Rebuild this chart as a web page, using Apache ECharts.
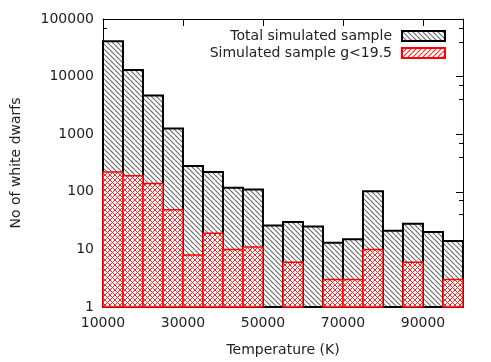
<!DOCTYPE html>
<html>
<head>
<meta charset="utf-8">
<script src="https://cdn.jsdelivr.net/npm/echarts@6/dist/echarts.min.js"></script>
<style>
  html, body { margin: 0; padding: 0; background: #fff; }
  #chart { width: 491px; height: 362px; }
</style>
</head>
<body>
<div id="chart"></div>
<script>
// temperature bins (lower edge, K), each 5000 K wide
const binStarts = [10000, 15000, 20000, 25000, 30000, 35000, 40000, 45000, 50000,
  55000, 60000, 65000, 70000, 75000, 80000, 85000, 90000, 95000]
const binWidth = 5000
const totalCounts = [41000, 13000, 4700, 1260, 280, 220, 118, 110, 26,
  30, 25, 13, 15, 102, 21, 28, 20, 14]
const brightCounts = [220, 190, 140, 49, 8, 19, 10, 11, 0,
  6, 0, 3, 3, 10, 0, 6, 0, 3]
const seriesNames = ['Total simulated sample', 'Simulated sample g<19.5']

function hatch(color, dirs, size, width) {
  const c = document.createElement('canvas')
  c.width = size
  c.height = size
  const ctx = c.getContext('2d')
  ctx.fillStyle = '#fff'
  ctx.fillRect(0, 0, size, size)
  ctx.strokeStyle = color
  ctx.lineWidth = width
  ctx.beginPath()
  for (const k of [-size, 0, size]) {
    if (dirs.indexOf('\\') >= 0) {
      ctx.moveTo(k, 0)
      ctx.lineTo(k + size, size)
    }
    if (dirs.indexOf('/') >= 0) {
      ctx.moveTo(k + size, 0)
      ctx.lineTo(k, size)
    }
  }
  ctx.stroke()
  return { image: c, repeat: 'repeat' }
}

const blackHatch = hatch('#666', '\\', 5, 1.1)
const redCross = hatch('#f22', '\\/', 5, 1)
const redLegend = hatch('#f22', '/', 5, 1.1)

function makeData(counts) {
  const out = []
  binStarts.forEach((x, i) => {
    if (counts[i] > 0) out.push([x, counts[i]])
  })
  return out
}

function barRenderer(fill, stroke, lw) {
  return function(params, api) {
    const x0 = api.value(0)
    const p1 = api.coord([x0, api.value(1)])
    const p2 = api.coord([x0 + binWidth, 1])
    return {
      type: 'rect',
      shape: { x: p1[0], y: p1[1], width: p2[0] - p1[0], height: p2[1] - p1[1] },
      style: { fill: fill, stroke: stroke, lineWidth: lw }
    }
  }
}

const chart = echarts.init(document.getElementById('chart'))
const textColor = '#222'
const font = 'DejaVu Sans'
const plain = v => String(v)

chart.setOption({
  animation: false,
  backgroundColor: '#fff',
  grid: { left: 103, right: 28, top: 19, bottom: 55 },
  legend: {
    orient: 'vertical',
    align: 'right',
    right: 40,
    top: 24,
    itemWidth: 43,
    itemHeight: 10,
    itemGap: 3,
    selectedMode: false,
    icon: 'rect',
    textStyle: { fontFamily: font, fontSize: 14, color: textColor, padding: [0, 5, 0, 0] },
    data: seriesNames
  },
  xAxis: [
    {
      type: 'value',
      min: 10000,
      max: 100000,
      interval: 20000,
      name: 'Temperature (K)',
      nameLocation: 'middle',
      nameGap: 36,
      nameTextStyle: { fontFamily: font, fontSize: 14, color: textColor },
      axisLine: { lineStyle: { color: '#000', width: 1 } },
      axisTick: { inside: true, length: 7, lineStyle: { color: '#000' } },
      axisLabel: { fontFamily: font, fontSize: 14, color: textColor, margin: 9, formatter: plain },
      splitLine: { show: false }
    },
    {
      type: 'value',
      position: 'top',
      min: 10000,
      max: 100000,
      interval: 20000,
      axisLine: { lineStyle: { color: '#000', width: 1 } },
      axisTick: { inside: true, length: 7, lineStyle: { color: '#000' } },
      axisLabel: { show: false },
      splitLine: { show: false }
    }
  ],
  yAxis: [
    {
      type: 'log',
      logBase: 10,
      min: 1,
      max: 100000,
      name: 'No of white dwarfs',
      nameLocation: 'middle',
      nameGap: 80,
      nameTextStyle: { fontFamily: font, fontSize: 14, color: textColor },
      axisLine: { show: true, lineStyle: { color: '#000', width: 1 } },
      axisTick: { inside: true, length: 7, lineStyle: { color: '#000' } },
      minorTick: { show: true, splitNumber: 3, length: 4, lineStyle: { color: '#000' } },
      axisLabel: { fontFamily: font, fontSize: 14, color: textColor, margin: 9, formatter: plain },
      splitLine: { show: false }
    },
    {
      type: 'log',
      logBase: 10,
      min: 1,
      max: 100000,
      position: 'right',
      axisLine: { show: true, lineStyle: { color: '#000', width: 1 } },
      axisTick: { inside: true, length: 7, lineStyle: { color: '#000' } },
      minorTick: { show: true, splitNumber: 3, length: 4, lineStyle: { color: '#000' } },
      axisLabel: { show: false },
      splitLine: { show: false }
    }
  ],
  series: [
    {
      name: seriesNames[0],
      type: 'custom',
      xAxisIndex: 0,
      yAxisIndex: 0,
      itemStyle: { color: blackHatch, borderColor: '#000', borderWidth: 2 },
      renderItem: barRenderer(blackHatch, '#000', 2),
      encode: { x: 0, y: 1 },
      data: makeData(totalCounts),
      z: 2
    },
    {
      name: seriesNames[1],
      type: 'custom',
      xAxisIndex: 0,
      yAxisIndex: 0,
      itemStyle: { color: redLegend, borderColor: '#f00', borderWidth: 1.5 },
      renderItem: barRenderer(redCross, '#f00', 1.5),
      encode: { x: 0, y: 1 },
      data: makeData(brightCounts),
      z: 3
    }
  ]
})
</script>
</body>
</html>
